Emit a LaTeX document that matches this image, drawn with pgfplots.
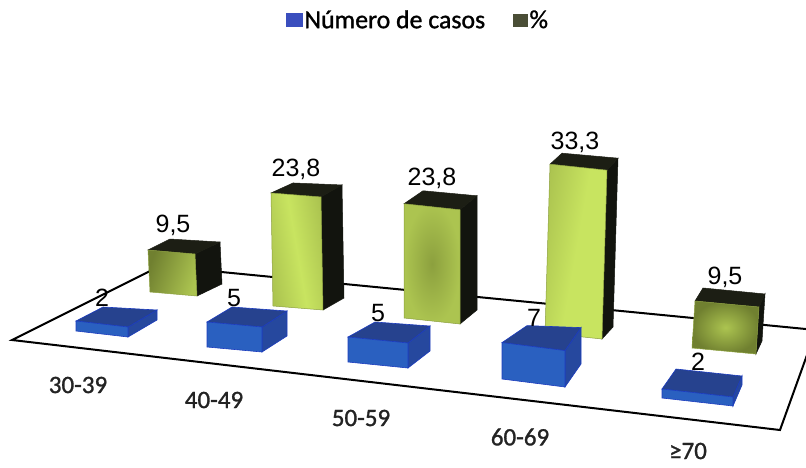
\documentclass[border=0pt]{standalone}
\usepackage{fontspec}
\setmainfont{Liberation Sans}
\newfontfamily\catfont[FakeBold=1.2]{Carlito}
\usepackage{pgfplots}
\pgfplotsset{compat=1.18}

\definecolor{gsideC}{RGB}{18,20,14}
\definecolor{gtopC}{RGB}{28,30,20}
\definecolor{gbright}{RGB}{200,228,96}
\definecolor{gmid}{RGB}{172,196,80}
\definecolor{gsoft}{RGB}{140,160,62}
\definecolor{gdark}{RGB}{112,128,48}
\definecolor{bfront}{RGB}{42,96,192}
\definecolor{btop}{RGB}{38,66,142}
\definecolor{bside}{RGB}{38,72,158}
\definecolor{bedge}{RGB}{28,60,190}
\definecolor{legblue}{RGB}{58,78,190}
\definecolor{legolive}{RGB}{74,78,54}
\definecolor{cattext}{RGB}{35,35,35}

% Ground footprint of a bar, in floor coordinates: front-left, front-right,
% back-right and back-left corners.
\newcommand\footprint[8]{%
  \def\FLx{#1}\def\FLy{#2}\def\FRx{#3}\def\FRy{#4}%
  \def\BRx{#5}\def\BRy{#6}\def\BLx{#7}\def\BLy{#8}}

% \prism{value}{units per value}{lean}{front style}{top style}{side style}
\newcommand\prism[6]{%
  \pgfmathsetmacro\h{#1*#2}%
  \pgfmathsetmacro\tFLx{\FLx+#3}\pgfmathsetmacro\tFLy{\FLy-\h}%
  \pgfmathsetmacro\tFRx{\FRx+#3}\pgfmathsetmacro\tFRy{\FRy-\h}%
  \pgfmathsetmacro\tBRx{\BRx+#3}\pgfmathsetmacro\tBRy{\BRy-\h}%
  \pgfmathsetmacro\tBLx{\BLx+#3}\pgfmathsetmacro\tBLy{\BLy-\h}%
  \addplot[forget plot,#6] coordinates {(\FRx,\FRy)(\BRx,\BRy)(\tBRx,\tBRy)(\tFRx,\tFRy)} --cycle;
  \addplot[forget plot,#5] coordinates {(\tFLx,\tFLy)(\tFRx,\tFRy)(\tBRx,\tBRy)(\tBLx,\tBLy)} --cycle;
  \addplot[forget plot,#4] coordinates {(\FLx,\FLy)(\FRx,\FRy)(\tFRx,\tFRy)(\tFLx,\tFLy)} --cycle;
}

\tikzset{
  gside/.style={fill=gsideC,draw=gsideC,line width=0.5pt},
  gtop/.style={fill=gtopC,draw=gtopC,line width=0.5pt},
  bbtop/.style={fill=btop,draw=bedge,line width=0.6pt},
  bbside/.style={fill=bside,draw=bedge,line width=0.6pt},
  bbfront/.style={fill=bfront,draw=bedge,line width=0.6pt},
}

\begin{document}
\begin{tikzpicture}
\path[use as bounding box] (0,0) rectangle (806pt,467pt);
\begin{axis}[
  at={(0,0)}, anchor=south west,
  scale only axis,
  width=806pt, height=467pt,
  xmin=0, xmax=806, ymin=0, ymax=467,
  y dir=reverse,
  hide axis,
  legend columns=2,
  legend style={
    at={(axis cs:418,20)}, anchor=center, draw=none, fill=none,
    font=\catfont\fontsize{25.8}{25.8}\selectfont,
    /tikz/every even column/.append style={column sep=26pt},
    inner sep=0pt, outer sep=0pt,
  },
  legend cell align=left,
  nodes near coords style={anchor=center,inner sep=0pt},
]
% Floor of the chart
\addplot[forget plot,black,line width=2pt,line join=miter]
  coordinates {(12,340)(160,266)(816,330)(780,430)} --cycle;

% Legend keys
\addlegendimage{legend image code/.code={
  \fill[legblue] (0pt,-6.5pt) rectangle (16pt,6.5pt);}}
\addlegendentry{Número de casos}
\addlegendimage{legend image code/.code={
  \fill[legolive] (2pt,-6.5pt) rectangle (16pt,6pt);}}
\addlegendentry{\%}

% Percentage series
\footprint{150}{292}{197}{296}{222}{284}{172}{281}
\prism{9.5}{4.42}{-2}{left color=gdark,right color=gmid,shading angle=70,draw=gsoft,line width=0.5pt}{gtop}{gside}
\footprint{273}{306}{323}{310}{344}{298}{295}{296}
\prism{23.8}{4.75}{-2}{left color=gmid,right color=gmid,middle color=gbright,shading angle=100,draw=gsoft,line width=0.5pt}{gtop}{gside}
\footprint{404}{318}{460}{324}{477}{310}{423}{305}
\prism{23.8}{4.8}{0}{inner color=gsoft,outer color=gmid,draw=gsoft,line width=0.5pt}{gtop}{gside}
\footprint{545}{333}{602}{339}{613}{327}{557}{322}
\prism{33.3}{5.07}{5}{left color=gmid,right color=gbright,middle color=gbright,shading angle=80,draw=gsoft,line width=0.5pt}{gtop}{gside}
\footprint{692}{348}{756}{354}{762}{341}{700}{335}
\prism{9.5}{4.95}{3}{inner color=gmid,outer color=gdark,draw=gsoft,line width=0.5pt}{gtop}{gside}

% Number of cases series
\footprint{76}{331}{128}{337}{157}{320}{103}{317}
\prism{2}{5}{0}{bbfront}{bbtop}{bbside}
\footprint{207}{347}{262}{352}{287}{336}{232}{332}
\prism{5}{5}{0}{bbfront}{bbtop}{bbside}
\footprint{348}{362}{408}{368}{430}{351}{375}{347}
\prism{5}{5}{0}{bbfront}{bbtop}{bbside}
\footprint{502}{379}{565}{387}{581}{364}{527}{362}
\prism{7}{5.2}{0}{bbfront}{bbtop}{bbside}
\footprint{662}{398}{733}{406}{742}{385}{676}{378}
\prism{2}{4.5}{0}{bbfront}{bbtop}{bbside}

% Value labels
\addplot[forget plot,draw=none,point meta=explicit symbolic,
  nodes near coords,
  nodes near coords style={font=\fontsize{25}{25}\selectfont,text=black}]
  coordinates {
    (173,225)[{9,5}] (296,169)[{23,8}] (432,178)[{23,8}] (575,142)[{33,3}] (725,277)[{9,5}]
    (102,298)[2] (234,298)[5] (378,313)[5] (534,318)[7] (698,362)[2]
  };

% Age group labels on the floor
\addplot[forget plot,draw=none,point meta=explicit symbolic,
  nodes near coords,
  nodes near coords style={font=\catfont\fontsize{25}{25}\selectfont,text=cattext}]
  coordinates {
    (78,385)[30-39] (214,400)[40-49] (361,418)[50-59] (520,437)[60-69] (688,451)[≥70]
  };
\end{axis}
\end{tikzpicture}
\end{document}
